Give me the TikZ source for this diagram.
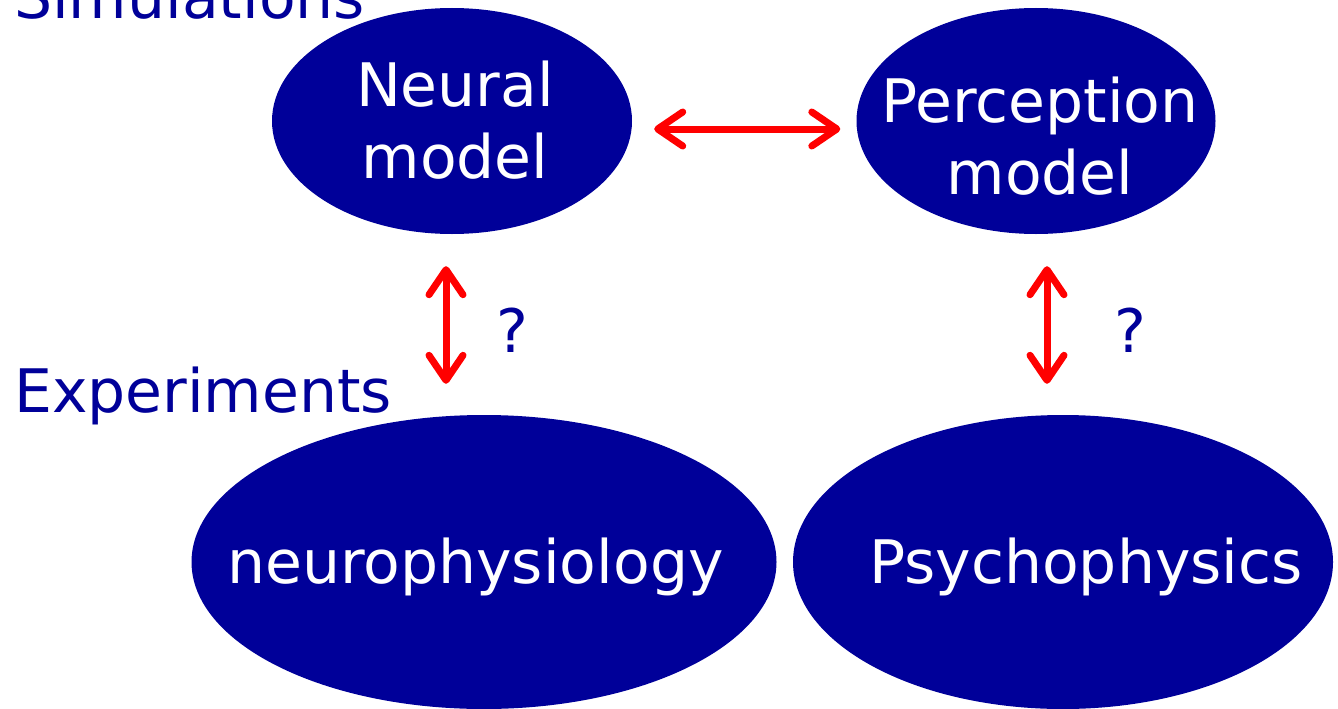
\documentclass[tikz,border=0pt]{standalone}
\usepackage{fontspec}
\setmainfont{DejaVu Sans}
\usetikzlibrary{shapes.geometric,arrows.meta,calc}
\definecolor{navy}{RGB}{0,0,153}
\definecolor{arrred}{RGB}{255,0,0}
\begin{document}
\begin{tikzpicture}[x=1pt,y=-1pt,
  blob/.style={ellipse,fill=navy,draw=none,inner sep=0pt},
  intxt/.style={text=white,font=\fontsize{60}{72}\selectfont,align=center,inner sep=0pt},
  lbl/.style={text=navy,font=\fontsize{60}{72}\selectfont,inner sep=0pt,anchor=base west},
  arr/.style={draw=arrred,line width=7pt,{Straight Barb[length=25pt,width=34pt,round]}-{Straight Barb[length=25pt,width=34pt,round]}}
]
\useasboundingbox (0,0) rectangle (1338,709);
\fill[white] (0,0) rectangle (1338,709);
% ellipses
\node[blob,minimum width=360pt,minimum height=226pt] (neural) at (452,121) {};
\node[blob,minimum width=359pt,minimum height=226pt] (percep) at (1036,121) {};
\node[blob,minimum width=585pt,minimum height=294pt] (neuro) at (484,562) {};
\node[blob,minimum width=540pt,minimum height=294pt] (psycho) at (1063,562) {};
% texts
\node[intxt] (neuralt) at (455,120) {Neural\\model};
\node[intxt] (perceptt) at (1040,136) {Perception\\model};
\node[lbl] (neurot) at (227,583) {\textcolor{white}{neurophysiology}};
\node[lbl] (psychot) at (869,583) {\textcolor{white}{Psychophysics}};
\node[lbl] (sim) at (14,19) {Simulations};
\node[lbl] (exp) at (14,412) {Experiments};
\node[lbl] (q1) at (496,352) {?};
\node[lbl] (q2) at (1114,352) {?};
% arrows
\coordinate (h1) at ($(neural.east)+(22,8)$);
\coordinate (h2) at ($(percep.west)+(-16,8)$);
\draw[arr] (h1) -- (h2);
\coordinate (v1a) at ($(neural.south)+(-6,32)$);
\coordinate (v1b) at ($(neuro.north)+(-38,-31)$);
\draw[arr] (v1a) -- (v1b);
\coordinate (v2a) at ($(percep.south)+(11,32)$);
\coordinate (v2b) at ($(psycho.north)+(-16,-31)$);
\draw[arr] (v2a) -- (v2b);
\end{tikzpicture}
\end{document}
